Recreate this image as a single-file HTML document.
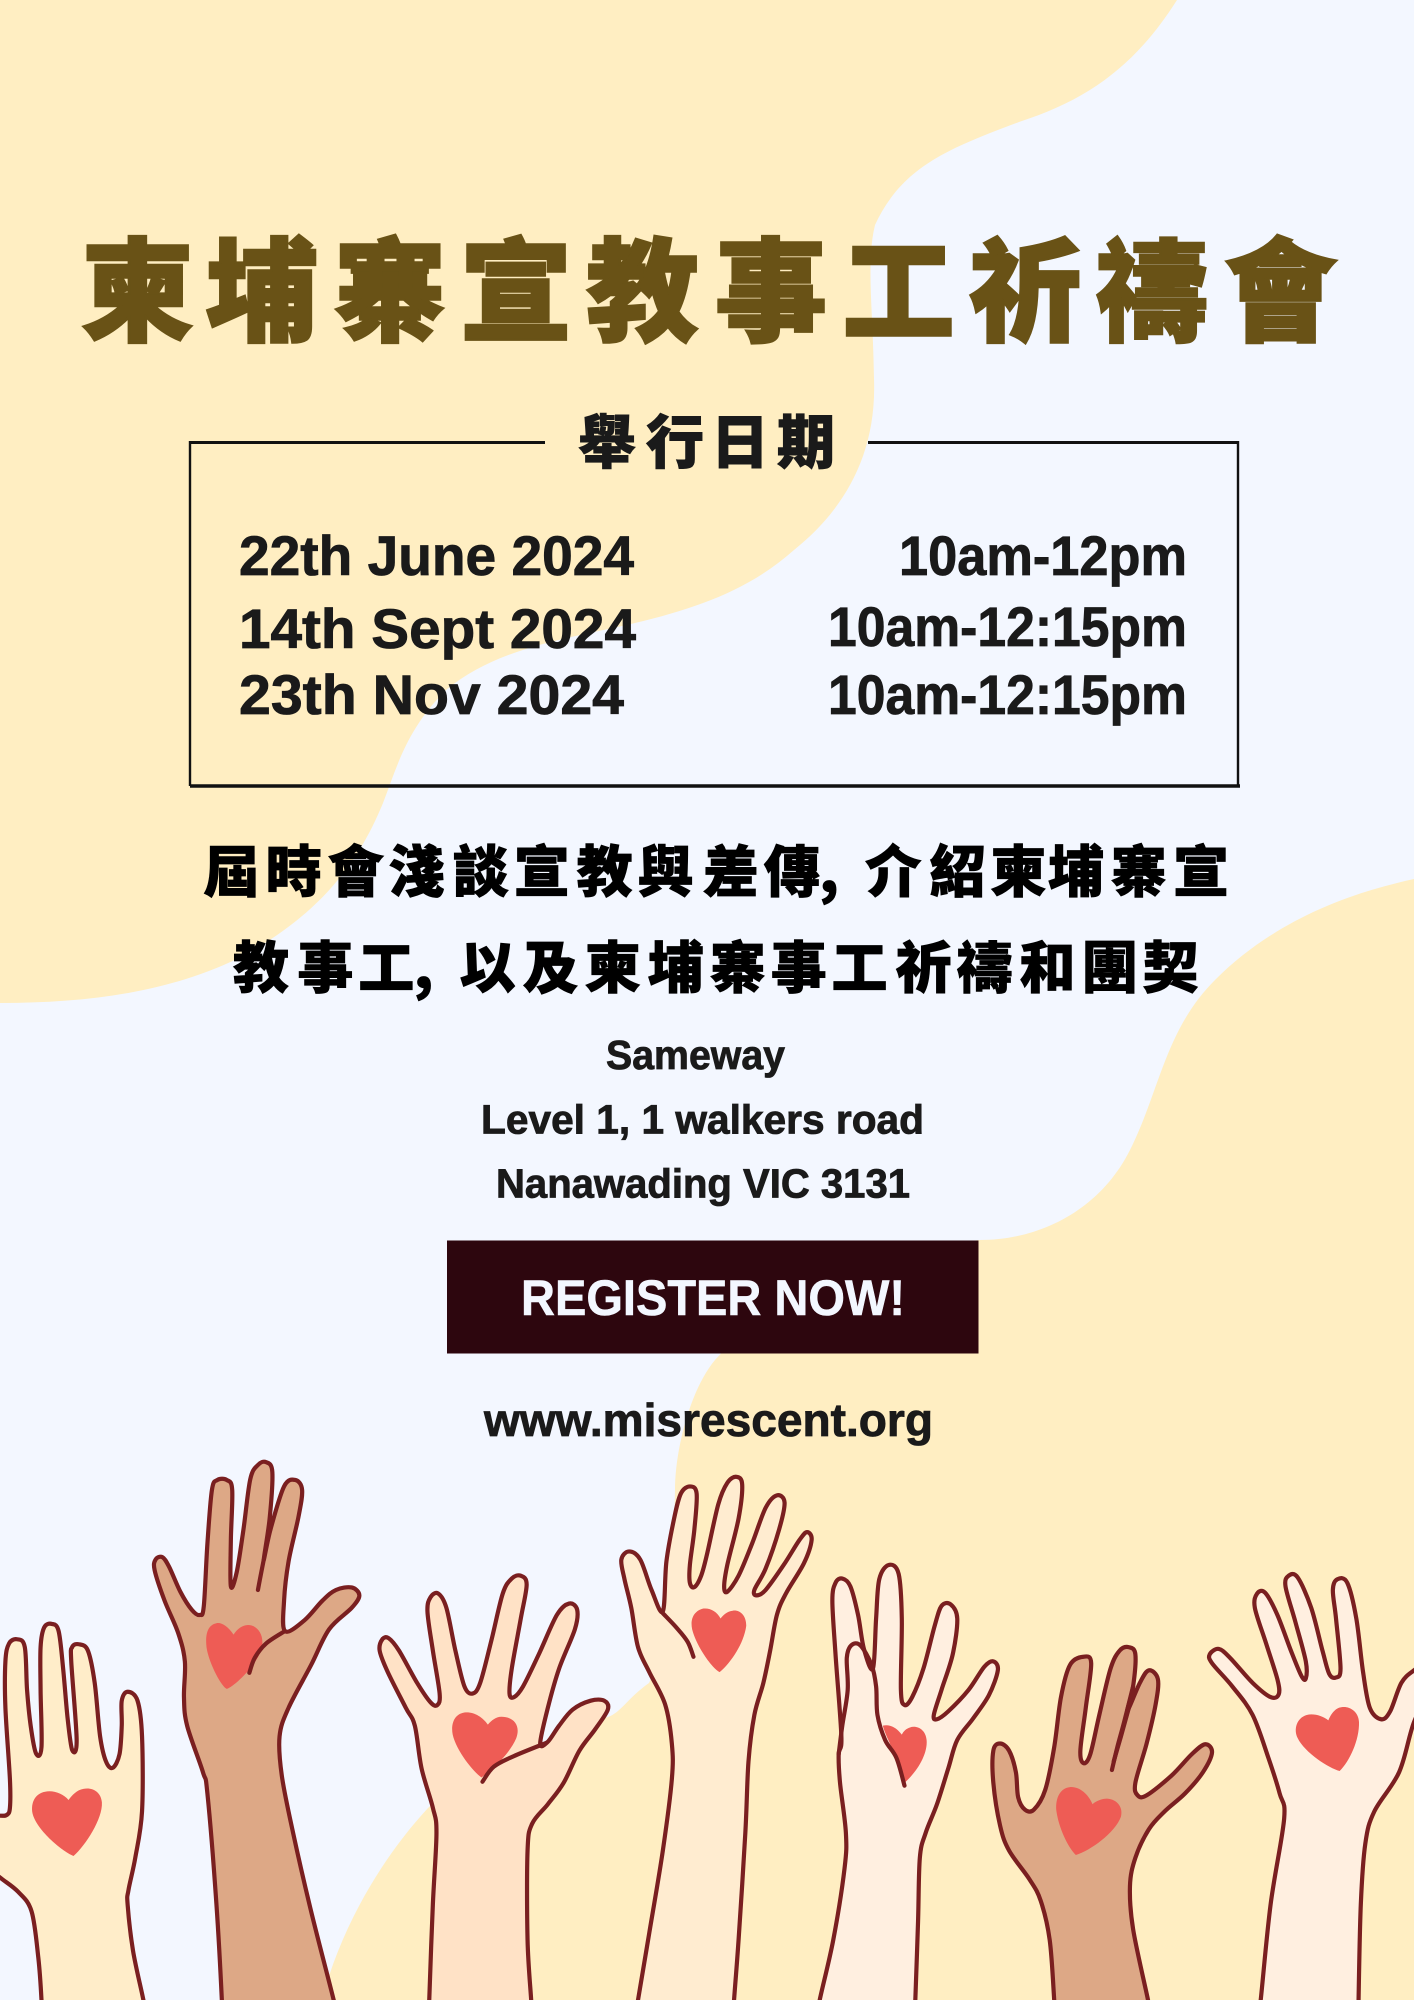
<!DOCTYPE html>
<html lang="zh-Hant">
<head>
<meta charset="utf-8">
<title>柬埔寨宣教事工祈禱會</title>
<style>
html,body{margin:0;padding:0;background:#f3f7ff}
svg{display:block}
.cjk{font-family:"Noto Sans CJK TC","Noto Sans CJK SC","Liberation Sans",sans-serif;font-weight:900;text-anchor:middle}
.lat{font-family:"Liberation Sans",sans-serif;font-weight:700;fill:#1a1a1a;stroke:#1a1a1a;stroke-width:.8}
</style>
</head>
<body>
<svg id="poster" xmlns="http://www.w3.org/2000/svg" width="1414" height="2000" viewBox="0 0 1414 2000">
  <rect width="1414" height="2000" fill="#f3f7ff"/>
  <path fill="#ffeec2" d="M0 0H1177C1137 63 1091 99 1019 122C947 149 902 167 875 225C866 262 873 307 874 379C877 460 839 514 794 550C748 591 694 609 631 624C559 640 496 649 446 690C406 730 397 767 383 803C361 857 325 911 243 956C171 992 90 1003 0 1003Z"/>
  <path fill="#ffeec2" d="M1414 879C1340 895 1270 925 1215 980C1165 1030 1160 1090 1130 1150C1100 1210 1040 1240 980 1240C860 1250 760 1310 715 1360C690 1390 675 1450 675 1490C673 1560 680 1620 649 1683C625 1700 620 1715 604 1718C540 1755 480 1760 428 1808C380 1860 340 1930 322 2000H1414Z"/>

  <text class="cjk" font-size="112" fill="#695216" stroke="#695216" stroke-width="2.5" y="332" x="137.5 261.5 390 516 642.5 771 898.5 1025.5 1152 1280.5">柬埔寨宣教事工祈禱會</text>

  <g stroke="#111" fill="none">
    <line x1="189" y1="442.5" x2="545" y2="442.5" stroke-width="3"/>
    <line x1="868" y1="442.5" x2="1238" y2="442.5" stroke-width="3"/>
    <line x1="190" y1="441" x2="190" y2="786" stroke-width="2.4"/>
    <line x1="1238" y1="441" x2="1238" y2="786" stroke-width="2.4"/>
    <line x1="190" y1="786" x2="1240" y2="786" stroke-width="3.4"/>
  </g>
  <text class="cjk" font-size="58" fill="#1a1a1a" stroke="#1a1a1a" stroke-width="1" y="463" x="607 675 740 806">舉行日期</text>

  <text class="lat" font-size="56" x="239" y="575" textLength="395" lengthAdjust="spacingAndGlyphs">22th June 2024</text>
  <text class="lat" font-size="56" x="239" y="648" textLength="397" lengthAdjust="spacingAndGlyphs">14th Sept 2024</text>
  <text class="lat" font-size="56" x="239" y="714" textLength="385" lengthAdjust="spacingAndGlyphs">23th Nov 2024</text>
  <text class="lat" font-size="56" x="899" y="575" textLength="288" lengthAdjust="spacingAndGlyphs">10am-12pm</text>
  <text class="lat" font-size="56" x="828" y="646" textLength="359" lengthAdjust="spacingAndGlyphs">10am-12:15pm</text>
  <text class="lat" font-size="56" x="828" y="714" textLength="359" lengthAdjust="spacingAndGlyphs">10am-12:15pm</text>

  <text class="cjk" font-size="56" fill="#000" stroke="#000" stroke-width=".8" y="892" x="231.4 293.6 355.8 416.6 480.9 541.7 604.6 665.5 731 791.9 829 893.3 957.5 1018.4 1075.9 1138.8 1201">屆時會淺談宣教與差傳,介紹柬埔寨宣</text>
  <text class="cjk" font-size="56" fill="#000" stroke="#000" stroke-width=".8" y="988" x="261 325.4 386.2 423.4 487.6 550.5 612.7 675.6 737.8 798.7 859.5 923.8 984.6 1047.5 1109.7 1170.5">教事工,以及柬埔寨事工祈禱和團契</text>

  <text class="lat" font-size="41" x="606" y="1069" textLength="179" lengthAdjust="spacingAndGlyphs">Sameway</text>
  <text class="lat" font-size="41" x="481" y="1133.5" textLength="443" lengthAdjust="spacingAndGlyphs">Level 1, 1 walkers road</text>
  <text class="lat" font-size="41" x="496" y="1197.5" textLength="414" lengthAdjust="spacingAndGlyphs">Nanawading VIC 3131</text>

  <g>
    <rect x="447" y="1240.5" width="531.5" height="113" fill="#2d060e"/>
    <text font-family="'Liberation Sans',sans-serif" font-weight="700" font-size="50" fill="#f3f7ff" stroke="#f3f7ff" stroke-width=".6" x="521" y="1315" textLength="384" lengthAdjust="spacingAndGlyphs">REGISTER NOW!</text>
  </g>

  <text class="lat" font-size="46" x="484" y="1436" textLength="449" lengthAdjust="spacingAndGlyphs">www.misrescent.org</text>

  <g id="hands" transform="translate(0 1440) scale(0.4509 0.3571)"></g>
</svg>

<script>
const SVG_NS = 'http://www.w3.org/2000/svg';
const OUTLINE = '#7a1f20';
const HEART = '#ee5c55';
const handLayer = document.getElementById('hands');

const handList = [
  { name: 'hand-1', fill: '#ffedc9', ox: 0,
    pts: [92,1620,92,1568,85,1450,70,1320,40,1265,0,1225,-30,1190,-40,1050,0,1052,15,1050,22,1030,22,950,12,750,12,620,20,570,38,558,55,580,60,700,68,800,80,878,92,860,90,700,90,580,98,525,115,515,130,535,140,640,150,780,160,868,170,840,158,620,160,580,175,572,195,590,210,680,222,830,235,900,250,918,265,880,270,800,270,730,283,705,305,730,315,830,315,1040,300,1170,285,1260,283,1300,295,1430,318,1568,325,1620],
    lines: [],
    heart: 'M152 1008C140 990 118 980 100 985C78 990 68 1015 72 1045C80 1090 135 1150 163 1165C190 1135 228 1060 226 1015C224 985 205 972 185 977C170 980 160 995 152 1008Z' },
  { name: 'hand-2', fill: '#dda886', ox: 0,
    pts: [492,1620,492,1568,480,1300,460,990,450,930,415,800,408,720,410,620,395,540,365,450,343,365,345,335,360,328,375,355,400,425,425,475,443,490,452,465,460,290,470,140,482,112,503,112,515,140,512,280,512,410,525,370,540,250,555,110,572,70,590,62,604,90,598,220,585,335,600,250,630,130,655,112,670,140,662,215,640,340,630,450,632,535,675,505,715,450,745,420,780,413,797,435,780,470,730,530,690,630,640,750,620,830,625,940,650,1100,690,1320,740,1568,748,1620],
    lines: [[585,335,578,380,572,420],[632,535,590,570,565,610,553,652]],
    heart: 'M518 545C505 520 490 510 480 513C460 518 455 545 458 580C462 620 490 690 503 697C520 690 570 630 580 585C588 545 570 518 550 518C538 518 525 530 518 545Z' },
  { name: 'hand-3', fill: '#ffe2c6', ox: 0,
    pts: [952,1620,952,1568,960,1300,968,1100,960,1030,935,920,920,800,900,750,860,650,842,590,848,558,862,555,885,590,925,680,955,735,970,742,975,710,960,590,948,480,955,440,972,430,990,470,1010,590,1030,690,1048,710,1065,680,1090,560,1115,430,1135,388,1155,380,1168,405,1155,500,1135,640,1130,710,1140,720,1160,690,1195,600,1235,490,1262,458,1280,475,1275,530,1240,640,1215,750,1198,850,1215,845,1240,800,1270,755,1310,730,1340,730,1348,755,1320,810,1285,870,1250,960,1215,1020,1180,1075,1170,1150,1170,1400,1178,1568,1180,1620],
    lines: [[1212,848,1140,885,1095,915,1070,957]],
    heart: 'M1082 797C1070 775 1050 760 1030 763C1005 768 1000 800 1004 825C1012 870 1050 930 1068 945C1090 925 1130 880 1145 835C1155 800 1140 775 1112 775C1100 775 1090 785 1082 797Z' },
  { name: 'hand-4', fill: '#ffecd0', ox: 0,
    pts: [1408,1620,1415,1568,1440,1380,1470,1150,1490,950,1490,850,1475,740,1440,650,1415,580,1400,470,1385,390,1378,335,1395,312,1420,335,1445,420,1470,480,1478,340,1495,220,1510,150,1530,130,1545,150,1540,250,1530,350,1530,400,1540,412,1555,380,1568,320,1593,180,1613,120,1633,103,1646,125,1638,220,1613,350,1606,410,1613,425,1638,380,1668,290,1698,190,1723,155,1740,175,1728,250,1698,360,1673,420,1678,435,1698,420,1738,350,1773,280,1790,258,1800,280,1783,345,1743,430,1723,490,1708,590,1693,680,1673,770,1660,900,1653,1100,1638,1400,1628,1568,1626,1620],
    lines: [[1470,485,1500,525,1525,565,1538,607]],
    heart: 'M1598 500C1590 480 1575 470 1560 472C1540 478 1530 500 1535 530C1545 580 1580 640 1596 650C1620 625 1650 570 1655 520C1655 490 1640 475 1625 478C1612 480 1604 490 1598 500Z' },
  { name: 'hand-5', fill: '#ffefe0', ox: 1568,
    pts: [244,1620,250,1568,280,1400,305,1200,308,1100,295,960,292,880,298,830,285,600,278,450,285,400,300,388,318,410,335,490,348,585,368,640,375,500,382,390,403,350,425,375,432,500,430,700,438,742,455,720,480,640,505,520,520,465,540,460,555,500,545,600,520,700,503,770,510,782,535,760,580,700,615,635,635,620,645,645,625,715,590,780,555,840,535,920,510,1020,485,1100,472,1170,468,1350,462,1568,460,1620],
    lines: [],
    heart: 'M432 825C420 805 405 795 390 800C395 830 425 890 438 960C465 930 490 880 487 840C485 810 465 798 450 805C442 808 436 815 432 825Z',
    topLines: [[292,880,300,800,312,700,310,610,320,575,340,575,365,630,375,690,378,770,395,840,420,890,438,968]] },
  { name: 'hand-6', fill: '#dda886', ox: 1568,
    pts: [772,1620,770,1568,760,1400,740,1290,715,1230,670,1150,650,1080,635,960,635,870,650,850,670,870,685,930,690,1000,705,1035,725,1035,750,980,770,860,785,720,805,630,835,607,852,625,840,750,828,870,835,905,850,880,870,770,895,640,915,590,935,580,950,600,945,690,932,760,960,680,980,645,1000,670,995,740,975,850,950,960,955,995,975,995,1030,940,1075,880,1105,852,1120,875,1100,930,1060,990,1015,1040,980,1090,950,1170,938,1250,945,1370,978,1568,985,1620],
    lines: [[945,690,925,790,910,860,898,924],[940,730,918,830,902,900]],
    heart: 'M855 1020C845 990 825 970 805 972C780 975 772 1010 775 1040C780 1085 800 1140 818 1162C850 1150 905 1100 918 1055C925 1020 900 1000 880 1005C870 1008 860 1013 855 1020Z' },
  { name: 'hand-7', fill: '#ffefe0', ox: 1568,
    pts: [1222,1620,1228,1568,1250,1300,1280,1060,1270,990,1245,890,1210,770,1165,690,1120,625,1115,600,1135,585,1160,610,1210,680,1250,720,1268,712,1265,670,1240,570,1215,470,1220,430,1238,428,1265,490,1295,590,1318,660,1328,668,1328,620,1305,510,1283,410,1290,380,1310,385,1340,470,1365,590,1380,655,1395,665,1405,640,1395,500,1388,420,1398,390,1420,400,1440,500,1455,650,1470,750,1495,782,1515,760,1540,680,1568,645,1600,620,1610,680,1568,790,1535,930,1480,1040,1460,1130,1450,1300,1445,1568,1445,1620],
    lines: [],
    heart: 'M1378 785C1365 772 1345 765 1330 770C1308 778 1300 810 1310 835C1325 875 1380 920 1403 927C1425 900 1447 840 1446 790C1445 760 1425 745 1408 748C1392 750 1383 770 1378 785Z' }
];

function smoothPath(flat) {
  const p = [];
  for (let i = 0; i < flat.length; i += 2) p.push([flat[i], flat[i + 1]]);
  let d = 'M' + p[0][0] + ' ' + p[0][1];
  for (let i = 0; i < p.length - 1; i++) {
    const a = p[Math.max(0, i - 1)], b = p[i], c = p[i + 1], e = p[Math.min(p.length - 1, i + 2)];
    const c1x = b[0] + (c[0] - a[0]) / 6, c1y = b[1] + (c[1] - a[1]) / 6;
    const c2x = c[0] - (e[0] - b[0]) / 6, c2y = c[1] - (e[1] - b[1]) / 6;
    d += 'C' + c1x.toFixed(1) + ' ' + c1y.toFixed(1) + ' ' + c2x.toFixed(1) + ' ' + c2y.toFixed(1) + ' ' + c[0] + ' ' + c[1];
  }
  return d;
}

function styleStroke(el, fill) {
  el.setAttribute('fill', fill);
  el.setAttribute('stroke', OUTLINE);
  el.setAttribute('stroke-width', '4.2');
  el.setAttribute('stroke-linecap', 'round');
  el.setAttribute('stroke-linejoin', 'round');
  el.setAttribute('vector-effect', 'non-scaling-stroke');
}

handList.forEach(function (hand) {
  const g = document.createElementNS(SVG_NS, 'g');
  
  
  g.setAttribute('transform', 'translate(' + hand.ox + ' 0)');

  const arm = document.createElementNS(SVG_NS, 'path');
  
  
  arm.setAttribute('d', smoothPath(hand.pts));
  styleStroke(arm, hand.fill);
  g.appendChild(arm);

  const heart = document.createElementNS(SVG_NS, 'path');
  
  
  heart.setAttribute('d', hand.heart);
  heart.setAttribute('fill', HEART);
  g.appendChild(heart);

  hand.lines.concat(hand.topLines || []).forEach(function (ln) {
    const crease = document.createElementNS(SVG_NS, 'path');
    
    
    crease.setAttribute('d', smoothPath(ln));
    styleStroke(crease, 'none');
    g.appendChild(crease);
  });

  handLayer.appendChild(g);
});
</script>
</body>
</html>
